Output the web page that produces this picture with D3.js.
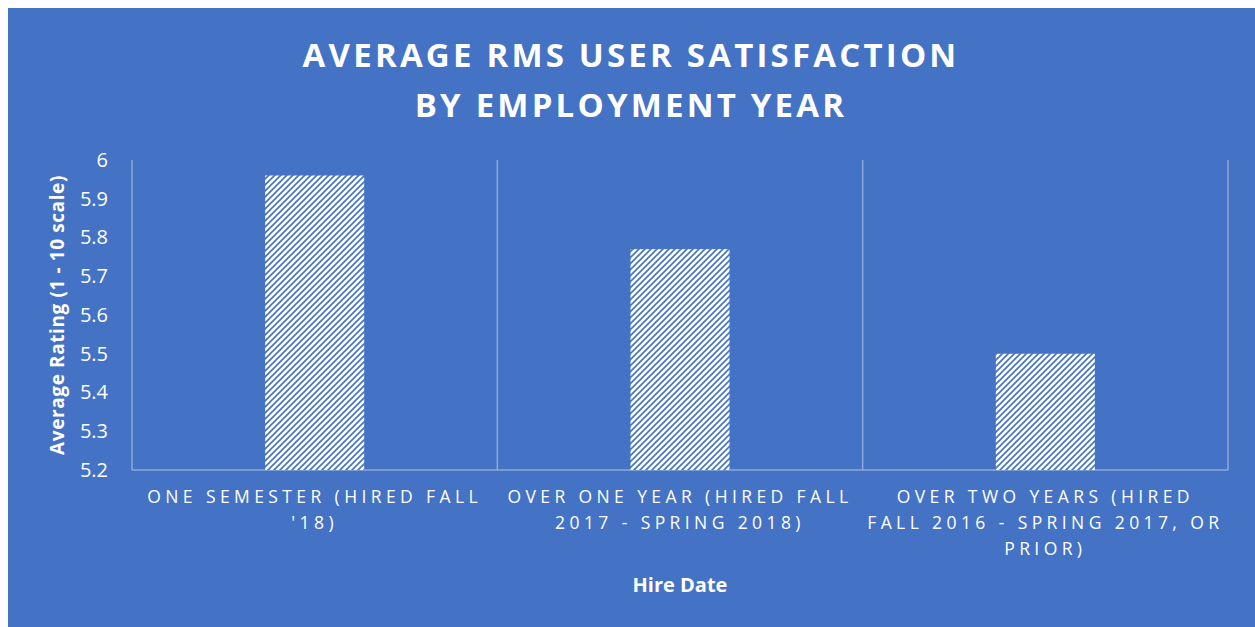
<!DOCTYPE html>
<html>
<head>
<meta charset="utf-8">
<script src="https://cdn.jsdelivr.net/npm/d3@7"></script>
<style>
  html, body { margin: 0; padding: 0; background: #ffffff; }
  svg { display: block; }
  text { fill: #ffffff; font-family: "Open Sans", "Liberation Sans", sans-serif; }
</style>
</head>
<body>
<svg id="chart" width="1255" height="627"></svg>
<script>
// chart data
const categories = ["one", "two", "three"];
const categoryLines = [
    ["ONE SEMESTER (HIRED FALL", "'18)"],
    ["OVER ONE YEAR (HIRED FALL", "2017 - SPRING 2018)"],
    ["OVER TWO YEARS (HIRED", "FALL 2016 - SPRING 2017, OR", "PRIOR)"]
];
const ratings = [5.96, 5.77, 5.50];
const yTicks = [5.2, 5.3, 5.4, 5.5, 5.6, 5.7, 5.8, 5.9, 6];
const titleLines = ["AVERAGE RMS USER SATISFACTION", "BY EMPLOYMENT YEAR"];

const blue = "#4472c4";
const gridColor = "#8eaadb";

const svg = d3.select("#chart");

// background panel
svg.append("rect")
    .attr("x", 8).attr("y", 8)
    .attr("width", 1247).attr("height", 619)
    .attr("fill", blue);

// hatch pattern for the bars
let defs = svg.append("defs");
let pat = defs.append("pattern")
    .attr("id", "hatch")
    .attr("patternUnits", "userSpaceOnUse")
    .attr("width", 6).attr("height", 6);
pat.append("rect").attr("width", 6).attr("height", 6).attr("fill", "#ffffff");
pat.append("path")
    .attr("d", "M-1,7 L7,-1 M-4,4 L4,-4 M2,10 L10,2")
    .attr("stroke", blue)
    .attr("stroke-width", 1.6);

const plot = { left: 132, right: 1228, top: 160, bottom: 470 };

const x = d3.scaleBand()
    .domain(categories)
    .range([plot.left, plot.right])
    .paddingInner(0)
    .paddingOuter(0);

const y = d3.scaleLinear()
    .domain([5.2, 6])
    .range([plot.bottom, plot.top]);

// title
svg.append("g").selectAll("text")
    .data(titleLines)
    .join("text")
    .attr("x", 631)
    .attr("y", (d, i) => 67 + i * 50)
    .attr("text-anchor", "middle")
    .attr("font-size", 33)
    .attr("font-weight", "bold")
    .attr("letter-spacing", 3.2)
    .text(d => d);

// vertical separators between categories
const seps = [plot.left, ...categories.map(c => x(c) + x.bandwidth())];
svg.append("g").selectAll("line")
    .data(seps)
    .join("line")
    .attr("x1", d => d).attr("x2", d => d)
    .attr("y1", plot.top).attr("y2", plot.bottom)
    .attr("stroke", gridColor)
    .attr("stroke-width", 1.5);

// bottom axis line
svg.append("line")
    .attr("x1", plot.left).attr("x2", plot.right)
    .attr("y1", plot.bottom).attr("y2", plot.bottom)
    .attr("stroke", gridColor)
    .attr("stroke-width", 1.5);

// bars
const barW = 99;
svg.append("g").selectAll("rect")
    .data(ratings)
    .join("rect")
    .attr("x", (d, i) => x(categories[i]) + x.bandwidth() / 2 - barW / 2)
    .attr("y", d => y(d))
    .attr("width", barW)
    .attr("height", d => plot.bottom - y(d))
    .attr("fill", "url(#hatch)");

// y axis
const yAxis = svg.append("g")
    .attr("transform", `translate(${plot.left},0)`)
    .call(d3.axisLeft(y).tickValues(yTicks).tickSize(0).tickPadding(24).tickFormat(d3.format("")));
yAxis.select(".domain").remove();
yAxis.selectAll("text")
    .attr("fill", "#ffffff")
    .style("font-family", '"Open Sans", sans-serif')
    .style("font-size", "20px");

// y axis title
svg.append("text")
    .attr("transform", `translate(64,${(plot.top + plot.bottom) / 2}) rotate(-90)`)
    .attr("text-anchor", "middle")
    .attr("font-size", 19)
    .attr("font-weight", "bold")
    .attr("letter-spacing", 0.6)
    .text("Average Rating (1 - 10 scale)");

// category labels
svg.append("g").selectAll("g")
    .data(categoryLines)
    .join("g")
    .each(function (lines, i) {
        d3.select(this).selectAll("text")
            .data(lines)
            .join("text")
            .attr("x", x(categories[i]) + x.bandwidth() / 2)
            .attr("y", (d, j) => 503 + j * 26)
            .attr("text-anchor", "middle")
            .attr("font-size", 17.5)
            .attr("letter-spacing", 4.4)
            .text(d => d);
    });

// x axis title
svg.append("text")
    .attr("x", (plot.left + plot.right) / 2)
    .attr("y", 592)
    .attr("text-anchor", "middle")
    .attr("font-size", 20)
    .attr("font-weight", "bold")
    .text("Hire Date");
</script>
</body>
</html>
